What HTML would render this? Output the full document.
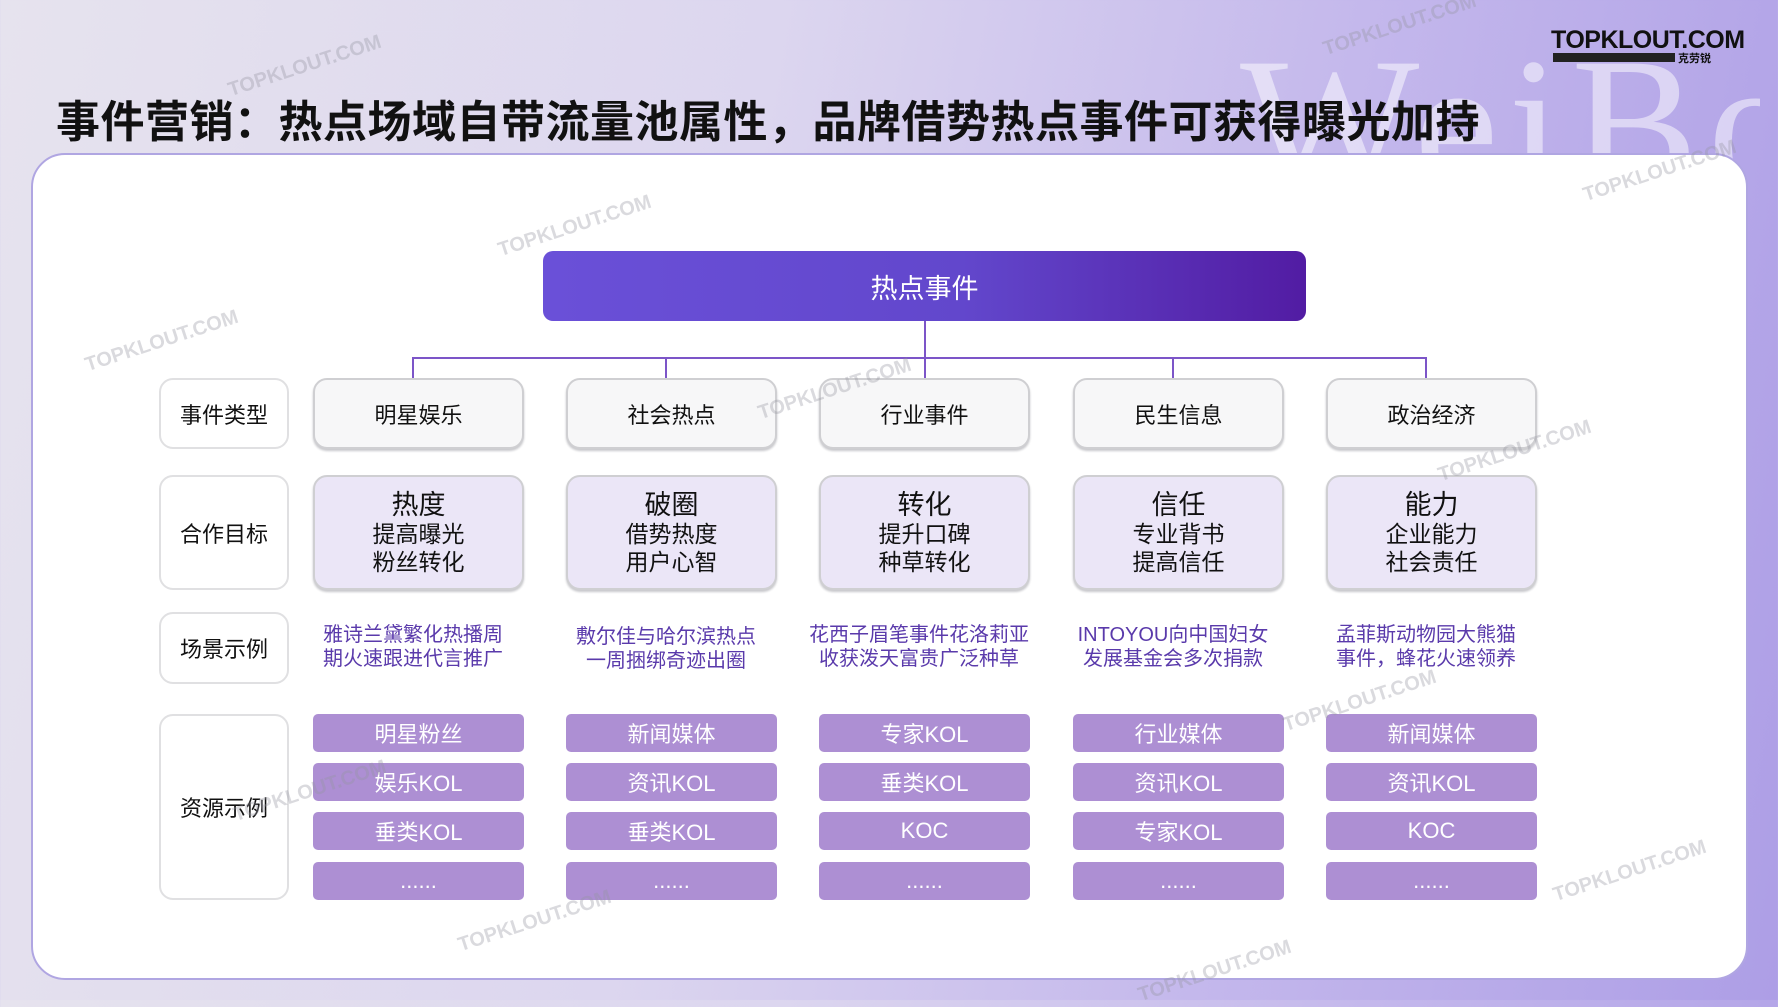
<!DOCTYPE html>
<html><head><meta charset="utf-8"><style>
*{margin:0;padding:0;box-sizing:border-box}
body{width:1778px;height:1000px;overflow:hidden;position:relative;font-family:"Liberation Sans","Noto Sans CJK SC",sans-serif;
background:linear-gradient(100deg,#e6e3ee 0%,#dcd6ef 40%,#c4b8ec 70%,#ad9ee6 100%)}
.a{position:absolute}
.title{left:56px;top:86px;font-size:44px;font-weight:bold;color:#111;white-space:nowrap;letter-spacing:0.5px}
.weibo{left:1240px;top:30px;width:520px;height:130px;overflow:hidden;font-size:190px;line-height:190px;color:rgba(255,255,255,0.5);font-family:"Liberation Serif",serif;letter-spacing:10px;white-space:nowrap}
.logo{left:1551px;top:26px;font-size:25px;font-weight:bold;color:#111;letter-spacing:-0.5px}
.logo2{left:1553px;top:53px;width:122px;height:9px;background:#222}
.logo3{left:1678px;top:50px;font-size:11px;color:#111;font-weight:bold}
.panel{left:31px;top:153px;width:1717px;height:827px;background:#fff;border:2px solid #b0a6e2;border-radius:34px}
.top{left:543px;top:251px;width:763px;height:70px;border-radius:10px;background:linear-gradient(90deg,#6a50d8,#6247cc 55%,#521ca3);color:#fff;font-size:27px;display:flex;align-items:center;justify-content:center}
.ln{background:#7c55c8}
.box{position:absolute;border:2px solid #cfcfd2;border-radius:14px;display:flex;flex-direction:column;align-items:center;justify-content:center;text-align:center;color:#111}
.lab{background:#fff;border-color:#e0e0e2;font-size:22px}
.r1{background:#f7f7f8;font-size:22px;box-shadow:0 2px 2px #c8c8cc}
.r2{background:#ebe6f7;font-size:23px;line-height:28px;box-shadow:0 2px 2px #c8c8cc}
.r2 b{font-weight:normal;font-size:27px;line-height:30px}
.r3{position:absolute;text-align:center;color:#5a3aab;font-size:20px;line-height:24px;width:240px}
.btn{position:absolute;background:#ad8fd3;color:#fff;font-size:22px;border-radius:5px;width:211px;height:38px;display:flex;align-items:center;justify-content:center}
.wm{position:absolute;color:rgba(150,150,160,0.35);font-size:20px;font-weight:bold;transform:rotate(-18deg)}
</style></head><body>
<div class="a weibo">WeiBo</div>
<div class="a title">事件营销：热点场域自带流量池属性，品牌借势热点事件可获得曝光加持</div>
<div class="a logo">TOPKLOUT.COM</div>
<div class="a logo2"></div>
<div class="a logo3">克劳锐</div>
<div class="a panel"></div>
<div class="a top">热点事件</div>
<div class="a ln" style="left:924px;top:321px;width:2px;height:58px"></div>
<div class="a ln" style="left:412px;top:357px;width:1015px;height:2px"></div>
<div class="a ln" style="left:412px;top:357px;width:2px;height:22px"></div>
<div class="a ln" style="left:665px;top:357px;width:2px;height:22px"></div>
<div class="a ln" style="left:1172px;top:357px;width:2px;height:22px"></div>
<div class="a ln" style="left:1425px;top:357px;width:2px;height:22px"></div>

<div class="box lab" style="left:159px;top:378px;width:130px;height:71px">事件类型</div>
<div class="box lab" style="left:159px;top:475px;width:130px;height:115px">合作目标</div>
<div class="box lab" style="left:159px;top:612px;width:130px;height:72px">场景示例</div>
<div class="box lab" style="left:159px;top:714px;width:130px;height:186px">资源示例</div>

<div class="box r1" style="left:313px;top:378px;width:211px;height:71px">明星娱乐</div>
<div class="box r1" style="left:566px;top:378px;width:211px;height:71px">社会热点</div>
<div class="box r1" style="left:819px;top:378px;width:211px;height:71px">行业事件</div>
<div class="box r1" style="left:1073px;top:378px;width:211px;height:71px">民生信息</div>
<div class="box r1" style="left:1326px;top:378px;width:211px;height:71px">政治经济</div>

<div class="box r2" style="left:313px;top:475px;width:211px;height:115px"><b>热度</b>提高曝光<br>粉丝转化</div>
<div class="box r2" style="left:566px;top:475px;width:211px;height:115px"><b>破圈</b>借势热度<br>用户心智</div>
<div class="box r2" style="left:819px;top:475px;width:211px;height:115px"><b>转化</b>提升口碑<br>种草转化</div>
<div class="box r2" style="left:1073px;top:475px;width:211px;height:115px"><b>信任</b>专业背书<br>提高信任</div>
<div class="box r2" style="left:1326px;top:475px;width:211px;height:115px"><b>能力</b>企业能力<br>社会责任</div>

<div class="r3" style="left:293px;top:623px">雅诗兰黛繁化热播周<br>期火速跟进代言推广</div>
<div class="r3" style="left:546px;top:625px">敷尔佳与哈尔滨热点<br>一周捆绑奇迹出圈</div>
<div class="r3" style="left:799px;top:623px">花西子眉笔事件花洛莉亚<br>收获泼天富贵广泛种草</div>
<div class="r3" style="left:1053px;top:623px">INTOYOU向中国妇女<br>发展基金会多次捐款</div>
<div class="r3" style="left:1306px;top:623px">孟菲斯动物园大熊猫<br>事件，蜂花火速领养</div>

<div class="btn" style="left:313px;top:714px">明星粉丝</div>
<div class="btn" style="left:313px;top:763px">娱乐KOL</div>
<div class="btn" style="left:313px;top:812px">垂类KOL</div>
<div class="btn" style="left:313px;top:862px">......</div>
<div class="btn" style="left:566px;top:714px">新闻媒体</div>
<div class="btn" style="left:566px;top:763px">资讯KOL</div>
<div class="btn" style="left:566px;top:812px">垂类KOL</div>
<div class="btn" style="left:566px;top:862px">......</div>
<div class="btn" style="left:819px;top:714px">专家KOL</div>
<div class="btn" style="left:819px;top:763px">垂类KOL</div>
<div class="btn" style="left:819px;top:812px">KOC</div>
<div class="btn" style="left:819px;top:862px">......</div>
<div class="btn" style="left:1073px;top:714px">行业媒体</div>
<div class="btn" style="left:1073px;top:763px">资讯KOL</div>
<div class="btn" style="left:1073px;top:812px">专家KOL</div>
<div class="btn" style="left:1073px;top:862px">......</div>
<div class="btn" style="left:1326px;top:714px">新闻媒体</div>
<div class="btn" style="left:1326px;top:763px">资讯KOL</div>
<div class="btn" style="left:1326px;top:812px">KOC</div>
<div class="btn" style="left:1326px;top:862px">......</div>

<div class="wm" style="left:225px;top:55px">TOPKLOUT.COM</div>
<div class="wm" style="left:495px;top:215px">TOPKLOUT.COM</div>
<div class="wm" style="left:82px;top:330px">TOPKLOUT.COM</div>
<div class="wm" style="left:755px;top:378px">TOPKLOUT.COM</div>
<div class="wm" style="left:1435px;top:440px">TOPKLOUT.COM</div>
<div class="wm" style="left:1580px;top:160px">TOPKLOUT.COM</div>
<div class="wm" style="left:1320px;top:14px">TOPKLOUT.COM</div>
<div class="wm" style="left:230px;top:780px">TOPKLOUT.COM</div>
<div class="wm" style="left:455px;top:910px">TOPKLOUT.COM</div>
<div class="wm" style="left:1280px;top:690px">TOPKLOUT.COM</div>
<div class="wm" style="left:1550px;top:860px">TOPKLOUT.COM</div>
<div class="wm" style="left:1135px;top:960px">TOPKLOUT.COM</div>
</body></html>
